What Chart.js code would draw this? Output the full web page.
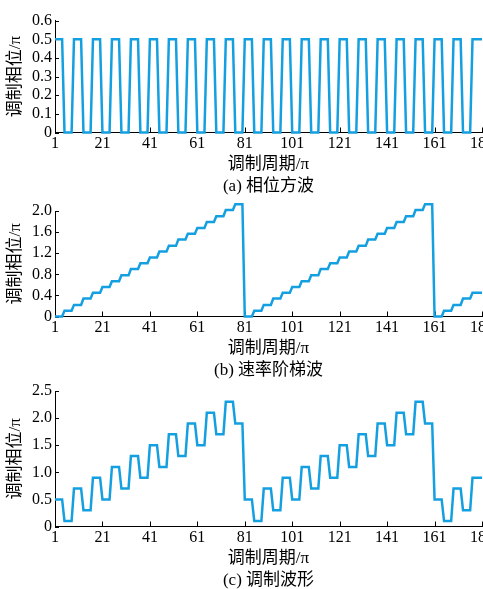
<!DOCTYPE html>
<html>
<head>
<meta charset="utf-8">
<script src="https://cdn.jsdelivr.net/npm/chart.js@4.4.0/dist/chart.umd.min.js"></script>
<style>
  html, body { margin: 0; padding: 0; background: #fff; overflow: hidden; }
  body { width: 483px; height: 589px; position: relative; }
  canvas { position: absolute; left: 0; }
</style>
</head>
<body>
<canvas id="chartA" width="483" height="198" style="top:0px"></canvas>
<canvas id="chartB" width="483" height="182" style="top:200px"></canvas>
<canvas id="chartC" width="483" height="210" style="top:382px"></canvas>
<script>
// modulation periods (x axis)
const periods = [
  1,2,3,4,5,6,7,8,9,10,11,12,13,14,15,16,17,18,19,20,
  21,22,23,24,25,26,27,28,29,30,31,32,33,34,35,36,37,38,39,40,
  41,42,43,44,45,46,47,48,49,50,51,52,53,54,55,56,57,58,59,60,
  61,62,63,64,65,66,67,68,69,70,71,72,73,74,75,76,77,78,79,80,
  81,82,83,84,85,86,87,88,89,90,91,92,93,94,95,96,97,98,99,100,
  101,102,103,104,105,106,107,108,109,110,111,112,113,114,115,116,117,118,119,120,
  121,122,123,124,125,126,127,128,129,130,131,132,133,134,135,136,137,138,139,140,
  141,142,143,144,145,146,147,148,149,150,151,152,153,154,155,156,157,158,159,160,
  161,162,163,164,165,166,167,168,169,170,171,172,173,174,175,176,177,178,179,180,
  181
];
const xTicks = [1, 21, 41, 61, 81, 101, 121, 141, 161, 181];

// (a) phase square wave
const phaseSquare = [
  0.5,0.5,0.5,0.5,0,0,0,0, 0.5,0.5,0.5,0.5,0,0,0,0, 0.5,0.5,0.5,0.5,0,0,0,0,
  0.5,0.5,0.5,0.5,0,0,0,0, 0.5,0.5,0.5,0.5,0,0,0,0, 0.5,0.5,0.5,0.5,0,0,0,0,
  0.5,0.5,0.5,0.5,0,0,0,0, 0.5,0.5,0.5,0.5,0,0,0,0, 0.5,0.5,0.5,0.5,0,0,0,0,
  0.5,0.5,0.5,0.5,0,0,0,0, 0.5,0.5,0.5,0.5,0,0,0,0, 0.5,0.5,0.5,0.5,0,0,0,0,
  0.5,0.5,0.5,0.5,0,0,0,0, 0.5,0.5,0.5,0.5,0,0,0,0, 0.5,0.5,0.5,0.5,0,0,0,0,
  0.5,0.5,0.5,0.5,0,0,0,0, 0.5,0.5,0.5,0.5,0,0,0,0, 0.5,0.5,0.5,0.5,0,0,0,0,
  0.5,0.5,0.5,0.5,0,0,0,0, 0.5,0.5,0.5,0.5,0,0,0,0, 0.5,0.5,0.5,0.5,0,0,0,0,
  0.5,0.5,0.5,0.5,0,0,0,0,
  0.5,0.5,0.5,0.5,0.5
];
const yTicksA = [0, 0.1, 0.2, 0.3, 0.4, 0.5, 0.6];
const yLabelsA = ['0', '0.1', '0.2', '0.3', '0.4', '0.5', '0.6'];

// (b) rate staircase wave
const rampStair = [
  0,0,0,0, 0.11,0.11,0.11,0.11, 0.22,0.22,0.22,0.22, 0.34,0.34,0.34,0.34,
  0.45,0.45,0.45,0.45, 0.56,0.56,0.56,0.56, 0.67,0.67,0.67,0.67, 0.78,0.78,0.78,0.78,
  0.9,0.9,0.9,0.9, 1.01,1.01,1.01,1.01, 1.12,1.12,1.12,1.12, 1.23,1.23,1.23,1.23,
  1.34,1.34,1.34,1.34, 1.46,1.46,1.46,1.46, 1.57,1.57,1.57,1.57, 1.68,1.68,1.68,1.68,
  1.79,1.79,1.79,1.79, 1.9,1.9,1.9,1.9, 2.02,2.02,2.02,2.02, 2.13,2.13,2.13,2.13,
  0,0,0,0, 0.11,0.11,0.11,0.11, 0.22,0.22,0.22,0.22, 0.34,0.34,0.34,0.34,
  0.45,0.45,0.45,0.45, 0.56,0.56,0.56,0.56, 0.67,0.67,0.67,0.67, 0.78,0.78,0.78,0.78,
  0.9,0.9,0.9,0.9, 1.01,1.01,1.01,1.01, 1.12,1.12,1.12,1.12, 1.23,1.23,1.23,1.23,
  1.34,1.34,1.34,1.34, 1.46,1.46,1.46,1.46, 1.57,1.57,1.57,1.57, 1.68,1.68,1.68,1.68,
  1.79,1.79,1.79,1.79, 1.9,1.9,1.9,1.9, 2.02,2.02,2.02,2.02, 2.13,2.13,2.13,2.13,
  0,0,0,0, 0.11,0.11,0.11,0.11, 0.22,0.22,0.22,0.22, 0.34,0.34,0.34,0.34,
  0.45,0.45,0.45,0.45, 0.45
];
const yTicksB = [0, 0.4, 0.8, 1.2, 1.6, 2.0];
const yLabelsB = ['0', '0.4', '0.8', '1.2', '1.6', '2.0'];

// (c) modulation waveform
const modWave = [
  0.5,0.5,0.5,0.5, 0.1,0.1,0.1,0.1, 0.7,0.7,0.7,0.7, 0.3,0.3,0.3,0.3,
  0.9,0.9,0.9,0.9, 0.5,0.5,0.5,0.5, 1.1,1.1,1.1,1.1, 0.7,0.7,0.7,0.7,
  1.3,1.3,1.3,1.3, 0.9,0.9,0.9,0.9, 1.5,1.5,1.5,1.5, 1.1,1.1,1.1,1.1,
  1.7,1.7,1.7,1.7, 1.3,1.3,1.3,1.3, 1.9,1.9,1.9,1.9, 1.5,1.5,1.5,1.5,
  2.1,2.1,2.1,2.1, 1.7,1.7,1.7,1.7, 2.3,2.3,2.3,2.3, 1.9,1.9,1.9,1.9,
  0.5,0.5,0.5,0.5, 0.1,0.1,0.1,0.1, 0.7,0.7,0.7,0.7, 0.3,0.3,0.3,0.3,
  0.9,0.9,0.9,0.9, 0.5,0.5,0.5,0.5, 1.1,1.1,1.1,1.1, 0.7,0.7,0.7,0.7,
  1.3,1.3,1.3,1.3, 0.9,0.9,0.9,0.9, 1.5,1.5,1.5,1.5, 1.1,1.1,1.1,1.1,
  1.7,1.7,1.7,1.7, 1.3,1.3,1.3,1.3, 1.9,1.9,1.9,1.9, 1.5,1.5,1.5,1.5,
  2.1,2.1,2.1,2.1, 1.7,1.7,1.7,1.7, 2.3,2.3,2.3,2.3, 1.9,1.9,1.9,1.9,
  0.5,0.5,0.5,0.5, 0.1,0.1,0.1,0.1, 0.7,0.7,0.7,0.7, 0.3,0.3,0.3,0.3,
  0.9,0.9,0.9,0.9, 0.9
];
const yTicksC = [0, 0.5, 1.0, 1.5, 2.0, 2.5];
const yLabelsC = ['0', '0.5', '1.0', '1.5', '2.0', '2.5'];

Chart.defaults.font.family = '"Liberation Serif", "Noto Sans CJK SC", serif';
Chart.defaults.font.size = 16;
Chart.defaults.color = '#000';

// tick marks pointing into the plot
const inwardTicks = {
  id: 'inwardTicks',
  beforeDatasetsDraw(chart) {
    const ctx = chart.ctx, x = chart.scales.x, y = chart.scales.y;
    ctx.save();
    ctx.strokeStyle = '#000';
    ctx.lineWidth = 1;
    ctx.beginPath();
    x.ticks.forEach(t => {
      const px = Math.round(x.getPixelForValue(t.value)) + 0.5;
      ctx.moveTo(px, x.top);
      ctx.lineTo(px, x.top - 5);
    });
    y.ticks.forEach(t => {
      const py = Math.round(y.getPixelForValue(t.value)) + 0.5;
      ctx.moveTo(y.right, py);
      ctx.lineTo(y.right + 4, py);
    });
    ctx.stroke();
    ctx.restore();
  }
};

function makeChart(id, values, yTicks, yLabels, yMax, padTop, caption) {
  return new Chart(document.getElementById(id), {
    type: 'line',
    data: {
      labels: periods,
      datasets: [{
        data: values,
        borderColor: '#14a0e0',
        borderWidth: 2.5,
        pointRadius: 0,
        tension: 0,
        clip: false
      }]
    },
    options: {
      responsive: false,
      animation: false,
      events: [],
      layout: { padding: { top: padTop, right: 1, bottom: 0, left: 0 } },
      plugins: { legend: { display: false }, tooltip: { enabled: false } },
      scales: {
        x: {
          type: 'linear',
          min: 1,
          max: 181,
          grid: { display: false, drawTicks: false },
          border: { display: true, color: '#000', width: 1 },
          ticks: { autoSkip: false, maxRotation: 0, padding: 2 },
          afterBuildTicks: s => { s.ticks = xTicks.map(v => ({ value: v })); },
          afterFit: s => { s.height = 65.5; s.paddingLeft = 0; s.paddingRight = 0; },
          title: {
            display: true,
            text: ['调制周期/π', caption],
            font: { size: 17, lineHeight: 1.3 },
            padding: { top: 0, bottom: 0 }
          }
        },
        y: {
          min: 0,
          max: yMax,
          grid: { display: false, drawTicks: false },
          border: { display: true, color: '#000', width: 1 },
          ticks: {
            autoSkip: false,
            padding: 3,
            callback: (v) => {
              const i = yTicks.findIndex(t => Math.abs(t - v) < 1e-9);
              return i >= 0 ? yLabels[i] : '';
            }
          },
          afterBuildTicks: s => { s.ticks = yTicks.map(v => ({ value: v })); },
          afterFit: s => { s.width = 55; s.paddingTop = 0; s.paddingBottom = 0; },
          title: {
            display: true,
            text: '调制相位/π',
            font: { size: 17, lineHeight: 1.2 },
            padding: { top: 5, bottom: 0 }
          }
        }
      }
    },
    plugins: [inwardTicks]
  });
}

makeChart('chartA', phaseSquare, yTicksA, yLabelsA, 0.6, 20.7, '(a) 相位方波');
makeChart('chartB', rampStair, yTicksB, yLabelsB, 2.0, 11, '(b) 速率阶梯波');
makeChart('chartC', modWave, yTicksC, yLabelsC, 2.5, 9, '(c) 调制波形');
</script>
</body>
</html>
